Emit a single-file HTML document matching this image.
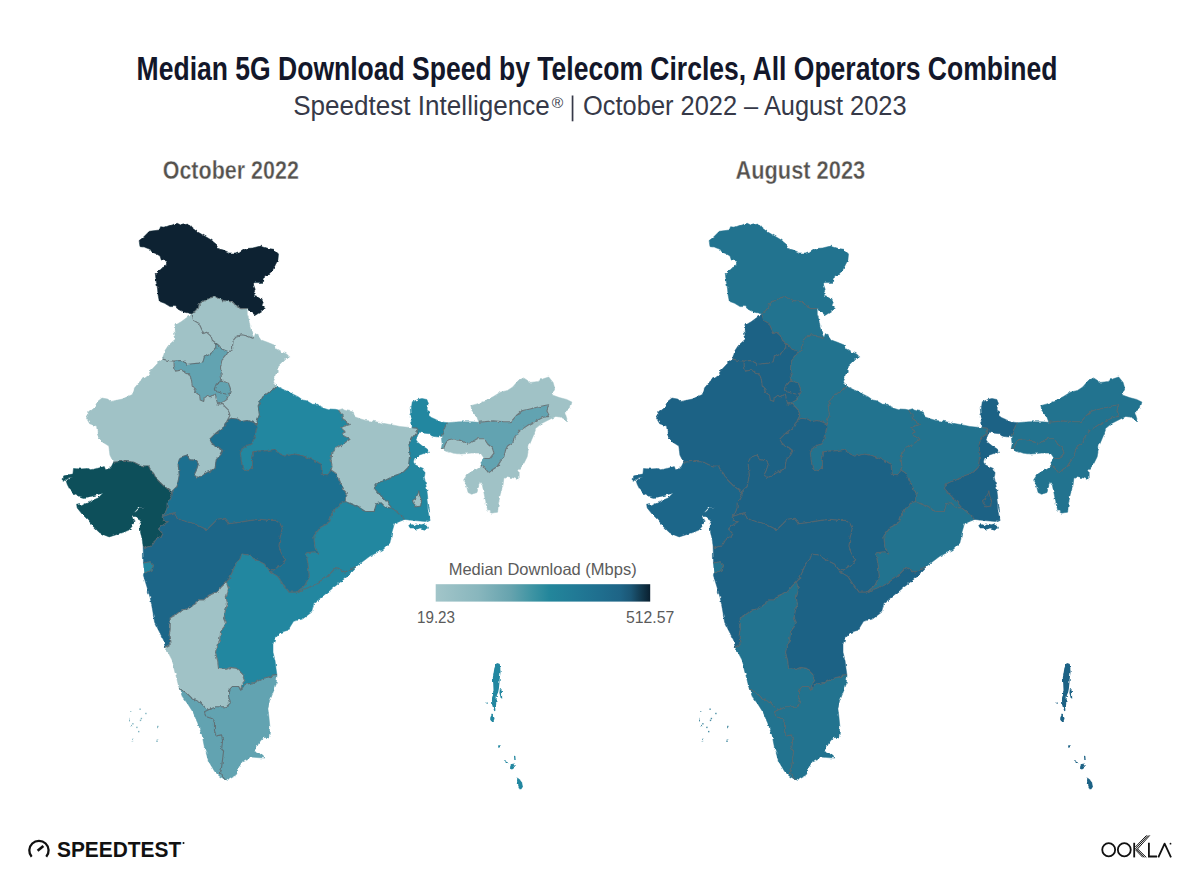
<!DOCTYPE html>
<html><head><meta charset="utf-8">
<style>
html,body{margin:0;padding:0;background:#fff;}
body{width:1201px;height:893px;overflow:hidden;}
svg{display:block;}
text{font-family:"Liberation Sans",sans-serif;}
</style></head>
<body>
<svg width="1201" height="893" viewBox="0 0 1201 893">
<defs>
<filter id="rough" x="-2%" y="-2%" width="104%" height="104%"><feTurbulence type="fractalNoise" baseFrequency="0.22" numOctaves="2" seed="3" result="n"/><feDisplacementMap in="SourceGraphic" in2="n" scale="3.2" xChannelSelector="R" yChannelSelector="G"/></filter>
<linearGradient id="lg" x1="0" x2="1" y1="0" y2="0">
<stop offset="0" stop-color="#a2c5c9"/>
<stop offset="0.2" stop-color="#88b6bd"/>
<stop offset="0.35" stop-color="#66a3ae"/>
<stop offset="0.45" stop-color="#3e94a3"/>
<stop offset="0.53" stop-color="#23869b"/>
<stop offset="0.65" stop-color="#217a96"/>
<stop offset="0.76" stop-color="#1f6f8f"/>
<stop offset="0.86" stop-color="#1e6486"/>
<stop offset="0.91" stop-color="#1b5675"/>
<stop offset="0.96" stop-color="#12384d"/>
<stop offset="1" stop-color="#0a2030"/>
</linearGradient>
</defs>
<rect width="1201" height="893" fill="#fff"/>
<text x="136.6" y="80" font-size="34" font-weight="bold" fill="#13172a" textLength="920.9" lengthAdjust="spacingAndGlyphs">Median 5G Download Speed by Telecom Circles, All Operators Combined</text>
<g fill="#363948">
<text x="293.2" y="114.6" font-size="27" textLength="256.6" lengthAdjust="spacingAndGlyphs">Speedtest Intelligence</text>
<text x="551.8" y="107.6" font-size="15.5" textLength="11.5" lengthAdjust="spacingAndGlyphs">®</text>
<rect x="571.7" y="95.5" width="1.7" height="25.8"/>
<text x="583.1" y="114.6" font-size="27" textLength="323.5" lengthAdjust="spacingAndGlyphs">October 2022 – August 2023</text>
</g>
<text x="162.7" y="178.6" font-size="25" font-weight="bold" fill="#55524e" stroke="#fff" stroke-width="0.35" textLength="136.2" lengthAdjust="spacingAndGlyphs">October 2022</text>
<text x="735.4" y="178.6" font-size="25" font-weight="bold" fill="#55524e" stroke="#fff" stroke-width="0.35" textLength="129.8" lengthAdjust="spacingAndGlyphs">August 2023</text>
<g transform="translate(0,0)" filter="url(#rough)">
<path d="M192.0,314.0 L183.3,311.9 L178.0,309.3 L175.3,306.6 L170.0,306.6 L164.6,303.3 L159.3,301.3 L158.0,294.6 L157.3,286.6 L156.0,280.0 L155.3,273.3 L159.3,269.3 L164.6,266.6 L166.6,264.0 L166.0,261.3 L161.3,260.0 L160.0,256.0 L156.6,254.0 L152.0,252.0 L150.0,249.3 L144.7,247.3 L140.0,246.6 L139.1,240.6 L143.3,237.3 L149.3,231.3 L159.3,230.0 L160.6,226.7 L164.6,227.3 L170.0,225.3 L177.3,223.3 L181.3,225.3 L188.6,224.0 L191.3,227.3 L196.6,231.3 L204.6,236.0 L211.3,240.0 L215.3,243.3 L216.6,248.0 L223.3,250.0 L227.9,252.0 L228.6,254.0 L235.2,254.0 L240.6,252.0 L245.9,248.6 L252.6,248.0 L260.6,246.0 L268.6,248.6 L273.9,249.3 L278.5,254.0 L277.9,260.0 L275.2,265.3 L272.5,270.6 L268.6,274.6 L264.6,276.0 L263.9,281.3 L261.2,282.6 L254.6,282.6 L253.2,283.9 L255.2,289.3 L253.9,291.9 L254.6,296.6 L261.9,298.6 L263.2,302.6 L261.9,305.3 L265.2,308.6 L260.6,311.9 L255.2,315.3 L251.2,311.9 L247.9,308.6 L247.2,308.5 L243.2,308.6 L240.6,308.6 L236.6,306.6 L233.2,302.6 L228.6,301.3 L223.3,300.6 L215.3,296.6 L209.9,297.9 L203.3,301.3 L199.3,303.9 L198.6,307.9 L195.3,311.9 L192.0,314.0Z" fill="#0a2432" stroke="#0a2432" stroke-width="0.5"/>
<path d="M192.0,314.0 L195.3,311.9 L198.6,307.9 L199.3,303.9 L203.3,301.3 L209.9,297.9 L215.3,296.6 L223.3,300.6 L228.6,301.3 L233.2,302.6 L236.6,306.6 L240.6,308.6 L243.2,308.6 L247.2,308.5 L247.3,314.8 L248.7,318.8 L249.3,322.8 L250.0,326.9 L251.4,331.6 L252.7,334.9 L254.0,337.6 L252.7,338.3 L247.3,336.0 L242.0,334.7 L236.6,336.3 L233.2,340.3 L232.6,345.7 L232.6,349.7 L228.5,351.7 L221.8,349.0 L219.1,345.7 L215.8,343.0 L212.4,340.3 L211.1,336.3 L206.4,332.2 L203.7,333.6 L199.0,323.5 L193.6,320.2 L192.0,314.0Z" fill="#a0c2c6" stroke="#a0c2c6" stroke-width="0.5"/>
<path d="M192.0,314.0 L193.6,320.2 L199.0,323.5 L203.7,333.6 L206.4,332.2 L211.1,336.3 L212.4,340.3 L215.8,343.0 L215.8,348.4 L213.1,351.7 L208.4,355.1 L204.3,357.1 L203.0,361.8 L199.0,363.1 L192.2,363.8 L186.9,364.5 L184.9,361.8 L180.2,360.5 L174.1,361.1 L168.1,360.5 L162.7,359.1 L163.4,356.4 L164.7,351.1 L168.1,345.7 L175.5,339.0 L174.1,330.9 L174.8,325.5 L181.5,321.5 L188.9,316.1 L192.0,314.0Z" fill="#a0c2c6" stroke="#a0c2c6" stroke-width="0.5"/>
<path d="M215.8,343.0 L219.1,345.7 L221.8,349.0 L228.5,351.7 L225.2,356.4 L221.8,360.5 L220.5,367.2 L221.1,375.2 L221.8,381.3 L216.4,384.0 L214.4,388.7 L216.4,391.4 L220.5,392.7 L225.8,394.0 L229.9,392.7 L227.2,399.4 L223.1,402.1 L217.8,404.1 L216.4,399.4 L215.1,394.0 L211.1,396.7 L207.7,395.4 L204.3,398.1 L203.7,401.4 L200.3,400.1 L199.6,395.4 L196.3,392.7 L192.2,386.0 L191.6,380.6 L189.6,373.9 L185.5,373.2 L181.5,369.9 L175.5,371.2 L174.1,365.8 L174.1,361.1 L180.2,360.5 L184.9,361.8 L186.9,364.5 L192.2,363.8 L199.0,363.1 L203.0,361.8 L204.3,357.1 L208.4,355.1 L213.1,351.7 L215.8,348.4 L215.8,343.0Z" fill="#62a3b1" stroke="#62a3b1" stroke-width="0.5"/>
<path d="M221.8,381.3 L228.5,383.3 L230.5,388.7 L229.9,392.7 L225.8,394.0 L220.5,392.7 L216.4,391.4 L214.4,388.7 L216.4,384.0 L221.8,381.3Z" fill="#62a3b1" stroke="#62a3b1" stroke-width="0.5"/>
<path d="M162.7,359.1 L168.1,360.5 L174.1,361.1 L174.1,365.8 L175.5,371.2 L181.5,369.9 L185.5,373.2 L189.6,373.9 L191.6,380.6 L192.2,386.0 L196.3,392.7 L199.6,395.4 L200.3,400.1 L203.7,401.4 L204.3,398.1 L207.7,395.4 L211.1,396.7 L215.1,394.0 L216.4,399.4 L217.8,404.1 L223.1,403.5 L224.5,406.1 L228.5,410.2 L229.9,415.5 L227.5,420.0 L225.2,426.0 L216.3,432.7 L209.5,439.4 L211.8,443.9 L218.5,447.3 L223.0,450.6 L220.7,455.1 L216.3,459.6 L215.1,468.5 L211.8,470.8 L205.1,473.0 L198.3,477.5 L193.9,475.3 L196.1,470.8 L198.3,464.1 L196.1,460.7 L189.4,459.6 L187.1,455.1 L180.4,457.3 L178.2,464.1 L179.3,475.3 L177.1,486.5 L171.4,491.9 L168.4,489.4 L163.4,485.7 L159.7,482.0 L156.0,478.3 L153.6,473.4 L151.1,470.9 L148.6,466.0 L143.7,466.0 L138.8,464.8 L133.9,462.3 L128.9,461.7 L124.0,461.1 L119.1,461.7 L113.5,462.3 L109.9,455.1 L108.8,446.1 L102.0,441.7 L97.6,434.9 L96.4,426.0 L89.7,423.8 L86.4,418.2 L88.6,412.6 L94.2,408.1 L97.6,401.4 L102.0,398.0 L107.6,399.1 L111.0,401.4 L122.2,399.1 L132.3,394.6 L134.5,387.9 L140.1,381.2 L146.8,376.7 L151.3,370.0 L157.0,364.0 L162.7,359.1Z" fill="#a0c2c6" stroke="#a0c2c6" stroke-width="0.5"/>
<path d="M228.5,351.7 L232.6,349.7 L232.6,345.7 L233.2,340.3 L236.6,336.3 L242.0,334.7 L247.3,336.0 L252.7,338.3 L254.0,337.6 L255.4,333.6 L259.4,336.3 L262.1,340.3 L267.5,342.3 L274.2,345.0 L275.5,348.4 L280.9,351.7 L286.3,353.7 L289.7,357.1 L286.3,357.8 L282.3,361.8 L278.2,365.8 L278.2,372.6 L275.5,375.2 L273.5,380.6 L275.5,384.6 L277.6,386.7 L276.1,386.1 L271.7,390.2 L262.7,396.9 L258.2,405.8 L259.4,414.8 L256.0,423.8 L253.8,422.6 L248.2,420.4 L241.4,421.5 L238.1,419.3 L231.4,418.2 L227.5,420.0 L229.9,415.5 L228.5,410.2 L224.5,406.1 L223.1,403.5 L217.8,404.1 L223.1,402.1 L227.2,399.4 L229.9,392.7 L230.5,388.7 L228.5,383.3 L221.8,381.3 L221.1,375.2 L220.5,367.2 L221.8,360.5 L225.2,356.4 L228.5,351.7Z" fill="#a0c2c6" stroke="#a0c2c6" stroke-width="0.5"/>
<path d="M256.0,423.8 L259.4,414.8 L258.2,405.8 L262.7,396.9 L271.7,390.2 L276.1,386.1 L289.6,392.4 L298.5,396.9 L302.7,400.0 L306.6,400.7 L310.0,402.7 L312.6,404.3 L318.0,404.3 L320.0,406.7 L325.3,408.7 L329.3,410.0 L330.0,409.0 L335.3,409.3 L338.5,410.0 L342.0,415.3 L342.6,418.7 L346.6,421.3 L349.3,424.7 L343.3,426.6 L340.6,428.0 L342.6,429.3 L345.0,431.3 L342.6,433.3 L344.0,436.0 L350.0,439.3 L343.3,443.9 L332.1,450.6 L331.0,459.6 L332.1,466.3 L331.0,470.0 L327.5,475.7 L322.5,475.3 L320.9,464.1 L312.0,459.6 L300.8,455.1 L294.1,454.0 L285.1,456.2 L278.4,452.9 L273.9,449.5 L267.2,450.6 L258.2,451.1 L253.8,451.7 L252.6,457.3 L252.6,468.5 L248.2,470.8 L242.6,468.5 L241.4,461.8 L240.3,452.9 L242.6,447.3 L248.2,445.0 L252.0,443.9 L254.9,434.9 L257.1,428.2 L256.0,423.8Z" fill="#2487a0" stroke="#2487a0" stroke-width="0.5"/>
<path d="M113.5,462.3 L119.1,461.7 L124.0,461.1 L128.9,461.7 L133.9,462.3 L138.8,464.8 L143.7,466.0 L148.6,466.0 L151.1,470.9 L153.6,473.4 L156.0,478.3 L159.7,482.0 L163.4,485.7 L168.4,489.4 L171.4,491.9 L172.1,495.6 L170.2,499.3 L167.1,503.0 L167.1,507.9 L165.3,512.8 L162.2,516.5 L163.4,521.5 L168.4,521.5 L164.7,523.9 L161.0,526.4 L158.5,528.9 L162.8,533.8 L161.0,537.5 L157.3,536.3 L156.0,538.7 L153.6,543.6 L151.1,546.1 L147.4,547.3 L145.0,548.6 L143.1,547.3 L142.5,541.2 L141.3,535.0 L140.0,528.9 L140.0,523.9 L141.3,520.2 L138.8,519.0 L136.3,516.5 L133.9,516.5 L132.6,514.1 L136.3,511.6 L140.0,507.9 L145.0,507.9 L138.8,507.3 L133.9,512.8 L132.0,516.5 L133.9,521.5 L132.0,526.4 L128.9,530.1 L122.8,532.6 L115.4,535.0 L109.2,536.9 L104.3,535.0 L99.4,532.6 L93.2,526.4 L88.3,520.2 L82.1,514.1 L77.2,507.9 L76.6,504.2 L79.6,503.6 L80.9,506.1 L87.0,503.0 L92.0,500.5 L98.1,498.1 L103.1,493.1 L98.1,494.4 L92.0,496.2 L84.6,497.4 L79.6,496.2 L73.5,493.1 L69.8,489.4 L67.3,484.5 L66.1,480.8 L69.8,478.3 L72.9,477.1 L68.6,477.7 L65.5,479.6 L63.0,481.4 L63.6,475.9 L68.6,474.6 L72.9,474.0 L73.5,468.5 L79.6,469.1 L88.3,468.5 L90.7,469.7 L96.9,468.5 L104.3,466.6 L105.5,469.7 L109.2,468.5 L111.7,466.0 L113.5,462.3Z" fill="#0a4f5a" stroke="#0a4f5a" stroke-width="0.5"/>
<path d="M171.4,491.9 L177.1,486.5 L179.3,475.3 L178.2,464.1 L180.4,457.3 L187.1,455.1 L189.4,459.6 L196.1,460.7 L198.3,464.1 L196.1,470.8 L193.9,475.3 L198.3,477.5 L205.1,473.0 L211.8,470.8 L215.1,468.5 L216.3,459.6 L220.7,455.1 L223.0,450.6 L218.5,447.3 L211.8,443.9 L209.5,439.4 L216.3,432.7 L225.2,426.0 L227.5,420.0 L231.4,418.2 L238.1,419.3 L241.4,421.5 L248.2,420.4 L253.8,422.6 L256.0,423.8 L257.1,428.2 L254.9,434.9 L252.0,443.9 L248.2,445.0 L242.6,447.3 L240.3,452.9 L241.4,461.8 L242.6,468.5 L248.2,470.8 L252.6,468.5 L252.6,457.3 L253.8,451.7 L258.2,451.1 L267.2,450.6 L273.9,449.5 L278.4,452.9 L285.1,456.2 L294.1,454.0 L300.8,455.1 L312.0,459.6 L320.9,464.1 L322.5,475.3 L327.5,475.7 L331.0,470.0 L336.1,473.4 L340.6,482.4 L342.9,489.1 L347.3,493.6 L345.1,501.4 L338.4,504.8 L331.7,513.8 L329.4,522.7 L320.5,527.2 L313.8,536.1 L314.9,547.3 L319.4,554.1 L313.8,551.8 L305.9,552.9 L308.2,565.3 L309.3,576.5 L304.8,585.4 L297.0,592.1 L289.1,592.1 L282.4,583.2 L277.9,576.5 L270.6,571.9 L275.6,568.5 L282.3,564.1 L285.7,560.7 L282.3,555.1 L278.9,546.1 L280.1,537.2 L282.3,528.2 L280.1,523.8 L275.6,520.4 L268.9,520.4 L259.9,519.3 L250.9,520.4 L237.5,522.6 L228.5,523.8 L224.1,518.2 L217.3,519.3 L212.9,523.8 L206.1,530.5 L203.9,528.2 L194.9,523.8 L186.0,521.5 L177.0,518.2 L174.8,512.6 L162.2,516.5 L165.3,512.8 L167.1,507.9 L167.1,503.0 L170.2,499.3 L172.1,495.6 L171.4,491.9Z" fill="#1f7090" stroke="#1f7090" stroke-width="0.5"/>
<path d="M143.1,547.3 L145.0,548.6 L147.4,547.3 L151.1,546.1 L153.6,543.6 L156.0,538.7 L157.3,536.3 L161.0,537.5 L162.8,533.8 L158.5,528.9 L161.0,526.4 L164.7,523.9 L168.4,521.5 L163.4,521.5 L162.2,516.5 L174.8,512.6 L177.0,518.2 L186.0,521.5 L194.9,523.8 L203.9,528.2 L206.1,530.5 L212.9,523.8 L217.3,519.3 L224.1,518.2 L228.5,523.8 L237.5,522.6 L250.9,520.4 L259.9,519.3 L268.9,520.4 L275.6,520.4 L280.1,523.8 L282.3,528.2 L280.1,537.2 L278.9,546.1 L282.3,555.1 L285.7,560.7 L282.3,564.1 L275.6,568.5 L270.6,571.9 L264.4,564.1 L255.4,559.6 L248.7,555.1 L242.0,554.0 L239.7,559.6 L235.3,564.1 L233.0,570.8 L228.5,579.7 L226.3,582.0 L221.8,586.5 L217.3,592.1 L208.4,595.4 L203.9,599.9 L197.2,599.9 L194.9,604.4 L188.2,608.9 L181.5,610.0 L174.8,615.6 L170.3,617.8 L170.2,628.1 L169.1,636.1 L170.2,644.2 L165.1,647.2 L163.6,640.2 L159.1,631.3 L154.6,622.3 L152.4,608.9 L150.2,597.7 L146.8,586.5 L143.4,575.3 L144.6,573.0 L147.9,571.9 L152.4,569.7 L153.5,565.2 L150.2,561.8 L143.4,562.9 L143.4,555.1 L143.1,547.3Z" fill="#1e6688" stroke="#1e6688" stroke-width="0.5"/>
<path d="M144.6,573.0 L147.9,571.9 L152.4,569.7 L153.5,565.2 L150.2,561.8 L143.4,562.9 L143.9,568.5 L144.6,573.0Z" fill="#2487a0" stroke="#2487a0" stroke-width="0.5"/>
<path d="M331.0,470.0 L332.1,466.3 L331.0,459.6 L332.1,450.6 L343.3,443.9 L350.0,439.3 L344.0,436.0 L342.6,433.3 L345.0,431.3 L342.6,429.3 L340.6,428.0 L343.3,426.6 L349.3,424.7 L346.6,421.3 L342.6,418.7 L342.0,415.3 L338.5,410.0 L342.5,408.7 L344.0,410.0 L346.6,410.7 L353.3,412.0 L354.6,416.7 L360.0,418.7 L365.7,420.4 L374.7,421.5 L385.9,423.8 L392.6,424.9 L400.0,426.5 L412.2,427.7 L417.0,428.1 L417.9,430.7 L414.3,435.2 L410.7,439.7 L409.0,444.2 L409.9,453.1 L409.0,462.1 L408.1,467.5 L403.6,471.9 L400.0,473.7 L394.4,475.7 L385.4,480.2 L378.7,482.4 L374.2,488.0 L378.7,493.6 L385.4,500.3 L392.1,508.2 L385.4,507.0 L380.9,502.6 L376.5,503.7 L374.2,511.5 L365.3,511.5 L358.5,507.0 L345.1,501.4 L347.3,493.6 L342.9,489.1 L340.6,482.4 L336.1,473.4 L331.0,470.0Z" fill="#a0c2c6" stroke="#a0c2c6" stroke-width="0.5"/>
<path d="M392.1,508.2 L385.4,500.3 L378.7,493.6 L374.2,488.0 L378.7,482.4 L385.4,480.2 L394.4,475.7 L400.0,473.7 L403.6,471.9 L408.1,467.5 L409.0,462.1 L409.9,453.1 L409.0,444.2 L410.7,439.7 L414.3,435.2 L417.9,430.7 L417.0,428.1 L412.2,427.7 L411.7,423.6 L410.6,418.0 L409.8,416.3 L410.6,412.4 L410.3,408.5 L411.7,405.7 L412.3,401.8 L417.9,399.5 L421.8,398.4 L426.8,399.5 L428.5,403.4 L427.4,406.8 L427.1,411.3 L429.6,412.4 L428.5,415.2 L431.3,417.4 L436.3,419.7 L440.8,421.9 L447.5,422.7 L445.3,426.4 L443.1,432.0 L441.2,436.1 L438.6,437.0 L431.9,435.9 L429.1,433.7 L422.9,433.1 L420.4,430.9 L417.9,434.8 L416.1,439.7 L417.9,442.4 L422.4,446.0 L426.9,448.7 L429.6,451.3 L425.1,453.1 L419.7,454.9 L414.3,458.5 L413.4,462.1 L415.2,464.8 L418.8,466.6 L423.3,468.4 L425.1,472.8 L424.2,478.2 L426.0,485.4 L426.9,490.7 L427.8,497.9 L428.7,505.1 L429.6,512.2 L426.9,500.3 L428.0,511.5 L430.2,519.4 L425.7,521.6 L414.5,520.5 L404.5,519.4 L398.9,513.8 L392.1,508.2Z" fill="#2487a0" stroke="#2487a0" stroke-width="0.5"/>
<path d="M345.1,501.4 L358.5,507.0 L365.3,511.5 L374.2,511.5 L376.5,503.7 L380.9,502.6 L385.4,507.0 L392.1,508.2 L398.9,513.8 L404.5,519.4 L394.4,523.8 L392.1,531.7 L389.9,542.9 L383.2,549.6 L369.7,556.3 L360.8,563.0 L356.3,566.4 L354.1,567.5 L345.1,572.0 L336.1,567.5 L327.2,576.5 L313.8,585.4 L297.0,592.1 L304.8,585.4 L309.3,576.5 L308.2,565.3 L305.9,552.9 L313.8,551.8 L319.4,554.1 L314.9,547.3 L313.8,536.1 L320.5,527.2 L329.4,522.7 L331.7,513.8 L338.4,504.8 L345.1,501.4Z" fill="#2487a0" stroke="#2487a0" stroke-width="0.5"/>
<path d="M270.6,571.9 L277.9,576.5 L282.4,583.2 L289.1,592.1 L297.0,592.1 L313.8,585.4 L327.2,576.5 L336.1,567.5 L345.1,572.0 L354.1,567.5 L356.3,566.4 L347.3,576.5 L336.1,585.4 L324.9,594.4 L313.8,603.3 L311.5,612.3 L302.6,619.0 L293.6,621.3 L288.0,630.2 L280.2,632.5 L274.6,639.2 L273.0,644.2 L273.0,652.3 L275.0,660.3 L276.0,668.4 L277.0,675.4 L270.9,676.4 L262.9,678.5 L254.8,682.5 L244.7,684.5 L240.7,690.5 L241.7,684.5 L244.7,680.5 L242.7,674.4 L236.7,668.4 L230.6,667.4 L224.6,669.4 L218.5,668.4 L217.5,660.3 L215.5,652.3 L217.3,644.7 L219.6,640.2 L220.7,631.3 L224.1,626.8 L226.3,622.3 L224.1,617.8 L225.2,611.1 L227.4,604.4 L226.3,597.7 L228.5,588.7 L226.3,582.0 L228.5,579.7 L233.0,570.8 L235.3,564.1 L239.7,559.6 L242.0,554.0 L248.7,555.1 L255.4,559.6 L264.4,564.1 L270.6,571.9Z" fill="#2487a0" stroke="#2487a0" stroke-width="0.5"/>
<path d="M165.1,647.2 L170.2,644.2 L169.1,636.1 L170.2,628.1 L170.3,617.8 L174.8,615.6 L181.5,610.0 L188.2,608.9 L194.9,604.4 L197.2,599.9 L203.9,599.9 L208.4,595.4 L217.3,592.1 L221.8,586.5 L226.3,582.0 L228.5,588.7 L226.3,597.7 L227.4,604.4 L225.2,611.1 L224.1,617.8 L226.3,622.3 L224.1,626.8 L220.7,631.3 L219.6,640.2 L217.3,644.7 L215.5,652.3 L217.5,660.3 L218.5,668.4 L224.6,669.4 L230.6,667.4 L236.7,668.4 L242.7,674.4 L244.7,680.5 L241.7,684.5 L240.7,690.5 L238.7,686.5 L232.6,686.5 L228.6,690.5 L228.6,696.6 L230.6,702.6 L226.6,706.7 L216.5,706.7 L208.5,709.7 L204.4,706.7 L200.4,702.6 L192.3,698.6 L186.3,692.6 L179.2,688.5 L176.2,676.4 L174.2,668.4 L172.2,660.3 L169.1,654.3 L165.1,647.2Z" fill="#a0c2c6" stroke="#a0c2c6" stroke-width="0.5"/>
<path d="M179.2,688.5 L186.3,692.6 L192.3,698.6 L200.4,702.6 L204.4,706.7 L208.5,709.7 L204.4,711.7 L206.4,716.8 L212.5,718.8 L214.5,722.8 L214.5,730.9 L216.5,735.9 L221.6,734.9 L222.6,740.9 L221.6,749.0 L223.6,751.0 L222.6,759.1 L221.6,767.1 L220.5,773.2 L224.6,779.2 L219.5,776.2 L214.5,771.2 L208.5,761.1 L204.4,747.0 L202.4,736.9 L198.4,724.8 L193.3,712.7 L188.3,704.7 L182.3,696.6 L179.2,688.5Z" fill="#62a3b1" stroke="#62a3b1" stroke-width="0.5"/>
<path d="M208.5,709.7 L216.5,706.7 L226.6,706.7 L230.6,702.6 L228.6,696.6 L228.6,690.5 L232.6,686.5 L238.7,686.5 L240.7,690.5 L244.7,684.5 L254.8,682.5 L262.9,678.5 L270.9,676.4 L277.0,675.4 L276.0,684.5 L273.0,692.6 L269.9,700.6 L267.9,708.7 L268.9,716.8 L269.9,726.8 L268.9,736.9 L262.9,737.9 L258.8,743.0 L254.8,751.0 L262.9,755.1 L264.9,758.1 L250.8,757.1 L242.7,761.1 L238.7,767.1 L236.7,775.2 L232.6,777.2 L227.6,780.2 L224.6,779.2 L220.5,773.2 L221.6,767.1 L222.6,759.1 L223.6,751.0 L221.6,749.0 L222.6,740.9 L221.6,734.9 L216.5,735.9 L214.5,730.9 L214.5,722.8 L212.5,718.8 L206.4,716.8 L204.4,711.7 L208.5,709.7Z" fill="#62a3b1" stroke="#62a3b1" stroke-width="0.5"/>
<path d="M441.2,436.1 L443.1,432.0 L445.3,426.4 L447.5,422.7 L459.1,421.8 L471.6,421.8 L478.8,422.3 L493.1,420.9 L503.9,421.8 L511.0,421.8 L516.4,415.5 L521.8,411.0 L529.0,409.3 L536.1,407.5 L543.3,405.7 L548.7,404.8 L546.9,411.0 L549.6,416.4 L543.3,417.3 L536.1,420.9 L529.0,424.5 L523.6,428.1 L519.1,431.6 L514.6,437.0 L512.8,442.4 L507.5,446.0 L505.7,449.6 L503.9,456.7 L500.3,460.3 L498.5,465.7 L493.1,469.3 L488.7,472.8 L485.1,468.4 L481.5,465.7 L480.6,460.3 L484.2,458.5 L489.6,458.5 L494.0,453.1 L492.2,447.8 L487.8,444.2 L484.2,438.8 L477.0,438.8 L471.6,442.4 L467.2,444.2 L460.9,440.6 L453.7,438.8 L448.4,439.7 L445.7,443.3 L443.9,447.8 L441.2,448.7 L442.1,444.2 L441.2,436.1Z" fill="#62a3b1" stroke="#62a3b1" stroke-width="0.5"/>
<path d="M478.8,422.3 L477.0,417.3 L471.6,410.1 L470.7,405.7 L477.0,403.9 L484.2,401.2 L493.1,396.7 L500.3,392.2 L507.5,390.4 L512.8,386.9 L518.2,380.6 L523.6,377.9 L530.7,382.4 L537.9,381.5 L543.3,378.8 L548.7,377.0 L553.1,382.4 L554.9,388.7 L552.2,394.9 L559.4,397.6 L566.6,399.4 L571.9,402.1 L570.1,408.4 L564.8,411.9 L567.5,420.9 L561.2,417.3 L555.8,416.4 L550.4,419.1 L541.5,423.6 L536.1,428.1 L534.3,433.4 L529.0,446.0 L527.2,456.7 L523.6,463.9 L518.2,471.0 L518.2,480.0 L514.6,478.2 L507.5,476.4 L503.9,478.2 L503.0,485.4 L500.3,494.3 L498.5,503.3 L497.6,512.2 L491.3,513.1 L487.8,510.4 L486.0,503.3 L484.2,494.3 L482.4,485.4 L479.7,481.8 L477.0,492.5 L471.6,494.3 L468.1,492.5 L466.3,485.4 L463.6,480.0 L467.2,474.6 L472.5,471.0 L477.0,469.3 L481.5,465.7 L485.1,468.4 L488.7,472.8 L493.1,469.3 L498.5,465.7 L500.3,460.3 L503.9,456.7 L505.7,449.6 L507.5,446.0 L512.8,442.4 L514.6,437.0 L519.1,431.6 L523.6,428.1 L529.0,424.5 L536.1,420.9 L543.3,417.3 L549.6,416.4 L546.9,411.0 L548.7,404.8 L543.3,405.7 L536.1,407.5 L529.0,409.3 L521.8,411.0 L516.4,415.5 L511.0,421.8 L503.9,421.8 L493.1,420.9 L478.8,422.3Z" fill="#a0c2c6" stroke="#a0c2c6" stroke-width="0.5"/>
<path d="M484.2,458.5 L480.6,453.1 L471.6,453.1 L460.9,454.0 L451.9,453.1 L444.8,450.4 L441.2,448.7 L443.9,447.8 L445.7,443.3 L448.4,439.7 L453.7,438.8 L460.9,440.6 L467.2,444.2 L471.6,442.4 L477.0,438.8 L484.2,438.8 L487.8,444.2 L492.2,447.8 L494.0,453.1 L489.6,458.5 L484.2,458.5Z" fill="#a0c2c6" stroke="#a0c2c6" stroke-width="0.5"/>
<path d="M418.8,490.7 L419.7,496.1 L421.5,500.6 L420.6,506.0 L417.0,506.9 L413.4,503.3 L412.5,500.6 L416.1,497.9 L417.9,493.4Z" fill="#a0c2c6" stroke="#5d6468" stroke-opacity="0.8" stroke-width="1.1"/>
<path d="M496.9,663.1 L499.4,663.8 L500.2,666.8 L500.6,671.8 L499.9,676.9 L499.4,683.6 L498.9,688.6 L498.2,692.0 L496.9,695.3 L496.5,700.4 L496.0,705.4 L495.2,708.8 L495.5,710.4 L494.3,711.3 L493.2,707.9 L492.2,703.7 L491.8,698.7 L492.7,695.3 L493.5,690.3 L493.2,683.6 L492.7,678.5 L493.5,673.5 L494.3,668.5 L495.5,665.1Z" fill="#2487a0"/>
<path d="M491.8,714.6 L493.8,715.8 L494.5,718.8 L493.5,721.3 L491.0,721.3 L490.1,718.0Z" fill="#2487a0"/>
<path d="M499.9,688.6 L501.9,691.1 L502.2,698.7 L500.6,697.8 L499.4,692.8Z" fill="#2487a0"/>
<path d="M498.2,745.3 L500.6,745.3 L500.6,747.7 L498.2,747.7Z" fill="#2487a0"/>
<path d="M504.9,760.0 L507.3,761.6 L508.3,764.1 L506.1,764.1Z" fill="#2487a0"/>
<path d="M510.3,765.8 L513.3,763.3 L515.0,767.5 L512.0,769.5 L510.0,768.8Z" fill="#2487a0"/>
<path d="M514.0,755.8 L515.3,756.1 L515.7,760.0 L514.3,760.0Z" fill="#2487a0"/>
<path d="M517.3,777.6 L519.5,779.3 L522.0,782.6 L522.9,786.8 L521.2,789.3 L519.5,789.3 L517.8,784.3 L517.0,780.9Z" fill="#2487a0"/>
<path d="M486.5,702.4 L487.8,702.4 L487.8,703.7 L486.5,703.7Z" fill="#2487a0"/>
<path d="M408.3,525.4 L410.5,524.3 L414.5,524.9 L416.8,523.6 L420.1,524.5 L423.5,523.8 L426.9,526.1 L428.0,528.3 L424.6,529.4 L420.1,528.3 L416.8,529.4 L413.4,528.3 L410.1,528.3Z" fill="#2487a0"/>
<rect x="130.0" y="710.3" width="1.4" height="1.4" fill="#62a3b1" opacity="0.8"/>
<rect x="139.4" y="708.5" width="1.4" height="1.4" fill="#62a3b1" opacity="0.8"/>
<rect x="145.2" y="712.8" width="1.4" height="1.4" fill="#62a3b1" opacity="0.8"/>
<rect x="128.6" y="717.8" width="1.4" height="1.4" fill="#62a3b1" opacity="0.8"/>
<rect x="140.7" y="717.8" width="1.4" height="1.4" fill="#62a3b1" opacity="0.8"/>
<rect x="139.8" y="719.7" width="1.4" height="1.4" fill="#62a3b1" opacity="0.8"/>
<rect x="132.2" y="723.1" width="1.4" height="1.4" fill="#62a3b1" opacity="0.8"/>
<rect x="130.0" y="724.9" width="1.4" height="1.4" fill="#62a3b1" opacity="0.8"/>
<rect x="136.2" y="726.7" width="1.4" height="1.4" fill="#62a3b1" opacity="0.8"/>
<rect x="138.0" y="730.9" width="1.4" height="1.4" fill="#62a3b1" opacity="0.8"/>
<rect x="157.1" y="725.8" width="1.4" height="1.4" fill="#62a3b1" opacity="0.8"/>
<rect x="132.2" y="738.7" width="1.4" height="1.4" fill="#62a3b1" opacity="0.8"/>
<rect x="131.8" y="741.0" width="1.4" height="1.4" fill="#62a3b1" opacity="0.8"/>
<rect x="156.8" y="738.5" width="1.4" height="1.4" fill="#62a3b1" opacity="0.8"/>
<rect x="156.4" y="740.5" width="1.4" height="1.4" fill="#62a3b1" opacity="0.8"/>
<rect x="128.6" y="719.7" width="1.4" height="1.4" fill="#62a3b1" opacity="0.8"/>
<path d="M247.2,308.5 L243.2,308.6 L240.6,308.6 L236.6,306.6 L233.2,302.6 L228.6,301.3 L223.3,300.6 L215.3,296.6 L209.9,297.9 L203.3,301.3 L199.3,303.9 L198.6,307.9 L195.3,311.9 L192.0,314.0 M254.0,337.6 L252.7,338.3 L247.3,336.0 L242.0,334.7 L236.6,336.3 L233.2,340.3 L232.6,345.7 L232.6,349.7 L228.5,351.7 M228.5,351.7 L221.8,349.0 L219.1,345.7 L215.8,343.0 M215.8,343.0 L212.4,340.3 L211.1,336.3 L206.4,332.2 L203.7,333.6 L199.0,323.5 L193.6,320.2 L192.0,314.0 M162.7,359.1 L168.1,360.5 L174.1,361.1 M174.1,361.1 L180.2,360.5 L184.9,361.8 L186.9,364.5 L192.2,363.8 L199.0,363.1 L203.0,361.8 L204.3,357.1 L208.4,355.1 L213.1,351.7 L215.8,348.4 L215.8,343.0 M228.5,351.7 L225.2,356.4 L221.8,360.5 L220.5,367.2 L221.1,375.2 L221.8,381.3 M221.8,381.3 L228.5,383.3 L230.5,388.7 L229.9,392.7 M229.9,392.7 L225.8,394.0 L220.5,392.7 L216.4,391.4 L214.4,388.7 L216.4,384.0 L221.8,381.3 M229.9,392.7 L227.2,399.4 L223.1,402.1 L217.8,404.1 M217.8,404.1 L216.4,399.4 L215.1,394.0 L211.1,396.7 L207.7,395.4 L204.3,398.1 L203.7,401.4 L200.3,400.1 L199.6,395.4 L196.3,392.7 L192.2,386.0 L191.6,380.6 L189.6,373.9 L185.5,373.2 L181.5,369.9 L175.5,371.2 L174.1,365.8 L174.1,361.1 M113.5,462.3 L119.1,461.7 L124.0,461.1 L128.9,461.7 L133.9,462.3 L138.8,464.8 L143.7,466.0 L148.6,466.0 L151.1,470.9 L153.6,473.4 L156.0,478.3 L159.7,482.0 L163.4,485.7 L168.4,489.4 L171.4,491.9 M171.4,491.9 L177.1,486.5 L179.3,475.3 L178.2,464.1 L180.4,457.3 L187.1,455.1 L189.4,459.6 L196.1,460.7 L198.3,464.1 L196.1,470.8 L193.9,475.3 L198.3,477.5 L205.1,473.0 L211.8,470.8 L215.1,468.5 L216.3,459.6 L220.7,455.1 L223.0,450.6 L218.5,447.3 L211.8,443.9 L209.5,439.4 L216.3,432.7 L225.2,426.0 L227.5,420.0 M217.8,404.1 L223.1,403.5 L224.5,406.1 L228.5,410.2 L229.9,415.5 L227.5,420.0 M227.5,420.0 L231.4,418.2 L238.1,419.3 L241.4,421.5 L248.2,420.4 L253.8,422.6 L256.0,423.8 M256.0,423.8 L259.4,414.8 L258.2,405.8 L262.7,396.9 L271.7,390.2 L276.1,386.1 M338.5,410.0 L342.0,415.3 L342.6,418.7 L346.6,421.3 L349.3,424.7 L343.3,426.6 L340.6,428.0 L342.6,429.3 L345.0,431.3 L342.6,433.3 L344.0,436.0 L350.0,439.3 L343.3,443.9 L332.1,450.6 L331.0,459.6 L332.1,466.3 L331.0,470.0 M331.0,470.0 L327.5,475.7 L322.5,475.3 L320.9,464.1 L312.0,459.6 L300.8,455.1 L294.1,454.0 L285.1,456.2 L278.4,452.9 L273.9,449.5 L267.2,450.6 L258.2,451.1 L253.8,451.7 L252.6,457.3 L252.6,468.5 L248.2,470.8 L242.6,468.5 L241.4,461.8 L240.3,452.9 L242.6,447.3 L248.2,445.0 L252.0,443.9 L254.9,434.9 L257.1,428.2 L256.0,423.8 M412.2,427.7 L417.0,428.1 L417.9,430.7 L414.3,435.2 L410.7,439.7 L409.0,444.2 L409.9,453.1 L409.0,462.1 L408.1,467.5 L403.6,471.9 L400.0,473.7 L394.4,475.7 L385.4,480.2 L378.7,482.4 L374.2,488.0 L378.7,493.6 L385.4,500.3 L392.1,508.2 M392.1,508.2 L385.4,507.0 L380.9,502.6 L376.5,503.7 L374.2,511.5 L365.3,511.5 L358.5,507.0 L345.1,501.4 M345.1,501.4 L347.3,493.6 L342.9,489.1 L340.6,482.4 L336.1,473.4 L331.0,470.0 M345.1,501.4 L338.4,504.8 L331.7,513.8 L329.4,522.7 L320.5,527.2 L313.8,536.1 L314.9,547.3 L319.4,554.1 L313.8,551.8 L305.9,552.9 L308.2,565.3 L309.3,576.5 L304.8,585.4 L297.0,592.1 M297.0,592.1 L289.1,592.1 L282.4,583.2 L277.9,576.5 L270.6,571.9 M270.6,571.9 L275.6,568.5 L282.3,564.1 L285.7,560.7 L282.3,555.1 L278.9,546.1 L280.1,537.2 L282.3,528.2 L280.1,523.8 L275.6,520.4 L268.9,520.4 L259.9,519.3 L250.9,520.4 L237.5,522.6 L228.5,523.8 L224.1,518.2 L217.3,519.3 L212.9,523.8 L206.1,530.5 L203.9,528.2 L194.9,523.8 L186.0,521.5 L177.0,518.2 L174.8,512.6 L162.2,516.5 M162.2,516.5 L165.3,512.8 L167.1,507.9 L167.1,503.0 L170.2,499.3 L172.1,495.6 L171.4,491.9 M162.2,516.5 L163.4,521.5 L168.4,521.5 L164.7,523.9 L161.0,526.4 L158.5,528.9 L162.8,533.8 L161.0,537.5 L157.3,536.3 L156.0,538.7 L153.6,543.6 L151.1,546.1 L147.4,547.3 L145.0,548.6 L143.1,547.3 M143.4,562.9 L150.2,561.8 L153.5,565.2 L152.4,569.7 L147.9,571.9 L144.6,573.0 M165.1,647.2 L170.2,644.2 L169.1,636.1 L170.2,628.1 L170.3,617.8 L174.8,615.6 L181.5,610.0 L188.2,608.9 L194.9,604.4 L197.2,599.9 L203.9,599.9 L208.4,595.4 L217.3,592.1 L221.8,586.5 L226.3,582.0 M226.3,582.0 L228.5,579.7 L233.0,570.8 L235.3,564.1 L239.7,559.6 L242.0,554.0 L248.7,555.1 L255.4,559.6 L264.4,564.1 L270.6,571.9 M297.0,592.1 L313.8,585.4 L327.2,576.5 L336.1,567.5 L345.1,572.0 L354.1,567.5 L356.3,566.4 M392.1,508.2 L398.9,513.8 L404.5,519.4 M447.5,422.7 L445.3,426.4 L443.1,432.0 L441.2,436.1 M478.8,422.3 L493.1,420.9 L503.9,421.8 L511.0,421.8 L516.4,415.5 L521.8,411.0 L529.0,409.3 L536.1,407.5 L543.3,405.7 L548.7,404.8 L546.9,411.0 L549.6,416.4 L543.3,417.3 L536.1,420.9 L529.0,424.5 L523.6,428.1 L519.1,431.6 L514.6,437.0 L512.8,442.4 L507.5,446.0 L505.7,449.6 L503.9,456.7 L500.3,460.3 L498.5,465.7 L493.1,469.3 L488.7,472.8 L485.1,468.4 L481.5,465.7 M484.2,458.5 L489.6,458.5 L494.0,453.1 L492.2,447.8 L487.8,444.2 L484.2,438.8 L477.0,438.8 L471.6,442.4 L467.2,444.2 L460.9,440.6 L453.7,438.8 L448.4,439.7 L445.7,443.3 L443.9,447.8 L441.2,448.7 M226.3,582.0 L228.5,588.7 L226.3,597.7 L227.4,604.4 L225.2,611.1 L224.1,617.8 L226.3,622.3 L224.1,626.8 L220.7,631.3 L219.6,640.2 L217.3,644.7 L215.5,652.3 L217.5,660.3 L218.5,668.4 L224.6,669.4 L230.6,667.4 L236.7,668.4 L242.7,674.4 L244.7,680.5 L241.7,684.5 L240.7,690.5 M240.7,690.5 L244.7,684.5 L254.8,682.5 L262.9,678.5 L270.9,676.4 L277.0,675.4 M179.2,688.5 L186.3,692.6 L192.3,698.6 L200.4,702.6 L204.4,706.7 L208.5,709.7 M208.5,709.7 L216.5,706.7 L226.6,706.7 L230.6,702.6 L228.6,696.6 L228.6,690.5 L232.6,686.5 L238.7,686.5 L240.7,690.5 M208.5,709.7 L204.4,711.7 L206.4,716.8 L212.5,718.8 L214.5,722.8 L214.5,730.9 L216.5,735.9 L221.6,734.9 L222.6,740.9 L221.6,749.0 L223.6,751.0 L222.6,759.1 L221.6,767.1 L220.5,773.2 L224.6,779.2" fill="none" stroke="#5d6468" stroke-opacity="0.8" stroke-width="1.1" stroke-linejoin="round"/>
</g>
<g transform="translate(570,0)" filter="url(#rough)">
<path d="M192.0,314.0 L183.3,311.9 L178.0,309.3 L175.3,306.6 L170.0,306.6 L164.6,303.3 L159.3,301.3 L158.0,294.6 L157.3,286.6 L156.0,280.0 L155.3,273.3 L159.3,269.3 L164.6,266.6 L166.6,264.0 L166.0,261.3 L161.3,260.0 L160.0,256.0 L156.6,254.0 L152.0,252.0 L150.0,249.3 L144.7,247.3 L140.0,246.6 L139.1,240.6 L143.3,237.3 L149.3,231.3 L159.3,230.0 L160.6,226.7 L164.6,227.3 L170.0,225.3 L177.3,223.3 L181.3,225.3 L188.6,224.0 L191.3,227.3 L196.6,231.3 L204.6,236.0 L211.3,240.0 L215.3,243.3 L216.6,248.0 L223.3,250.0 L227.9,252.0 L228.6,254.0 L235.2,254.0 L240.6,252.0 L245.9,248.6 L252.6,248.0 L260.6,246.0 L268.6,248.6 L273.9,249.3 L278.5,254.0 L277.9,260.0 L275.2,265.3 L272.5,270.6 L268.6,274.6 L264.6,276.0 L263.9,281.3 L261.2,282.6 L254.6,282.6 L253.2,283.9 L255.2,289.3 L253.9,291.9 L254.6,296.6 L261.9,298.6 L263.2,302.6 L261.9,305.3 L265.2,308.6 L260.6,311.9 L255.2,315.3 L251.2,311.9 L247.9,308.6 L247.2,308.5 L243.2,308.6 L240.6,308.6 L236.6,306.6 L233.2,302.6 L228.6,301.3 L223.3,300.6 L215.3,296.6 L209.9,297.9 L203.3,301.3 L199.3,303.9 L198.6,307.9 L195.3,311.9 L192.0,314.0Z" fill="#22738f" stroke="#22738f" stroke-width="0.5"/>
<path d="M192.0,314.0 L195.3,311.9 L198.6,307.9 L199.3,303.9 L203.3,301.3 L209.9,297.9 L215.3,296.6 L223.3,300.6 L228.6,301.3 L233.2,302.6 L236.6,306.6 L240.6,308.6 L243.2,308.6 L247.2,308.5 L247.3,314.8 L248.7,318.8 L249.3,322.8 L250.0,326.9 L251.4,331.6 L252.7,334.9 L254.0,337.6 L252.7,338.3 L247.3,336.0 L242.0,334.7 L236.6,336.3 L233.2,340.3 L232.6,345.7 L232.6,349.7 L228.5,351.7 L221.8,349.0 L219.1,345.7 L215.8,343.0 L212.4,340.3 L211.1,336.3 L206.4,332.2 L203.7,333.6 L199.0,323.5 L193.6,320.2 L192.0,314.0Z" fill="#22738f" stroke="#22738f" stroke-width="0.5"/>
<path d="M192.0,314.0 L193.6,320.2 L199.0,323.5 L203.7,333.6 L206.4,332.2 L211.1,336.3 L212.4,340.3 L215.8,343.0 L215.8,348.4 L213.1,351.7 L208.4,355.1 L204.3,357.1 L203.0,361.8 L199.0,363.1 L192.2,363.8 L186.9,364.5 L184.9,361.8 L180.2,360.5 L174.1,361.1 L168.1,360.5 L162.7,359.1 L163.4,356.4 L164.7,351.1 L168.1,345.7 L175.5,339.0 L174.1,330.9 L174.8,325.5 L181.5,321.5 L188.9,316.1 L192.0,314.0Z" fill="#1e6285" stroke="#1e6285" stroke-width="0.5"/>
<path d="M215.8,343.0 L219.1,345.7 L221.8,349.0 L228.5,351.7 L225.2,356.4 L221.8,360.5 L220.5,367.2 L221.1,375.2 L221.8,381.3 L216.4,384.0 L214.4,388.7 L216.4,391.4 L220.5,392.7 L225.8,394.0 L229.9,392.7 L227.2,399.4 L223.1,402.1 L217.8,404.1 L216.4,399.4 L215.1,394.0 L211.1,396.7 L207.7,395.4 L204.3,398.1 L203.7,401.4 L200.3,400.1 L199.6,395.4 L196.3,392.7 L192.2,386.0 L191.6,380.6 L189.6,373.9 L185.5,373.2 L181.5,369.9 L175.5,371.2 L174.1,365.8 L174.1,361.1 L180.2,360.5 L184.9,361.8 L186.9,364.5 L192.2,363.8 L199.0,363.1 L203.0,361.8 L204.3,357.1 L208.4,355.1 L213.1,351.7 L215.8,348.4 L215.8,343.0Z" fill="#1e6285" stroke="#1e6285" stroke-width="0.5"/>
<path d="M221.8,381.3 L228.5,383.3 L230.5,388.7 L229.9,392.7 L225.8,394.0 L220.5,392.7 L216.4,391.4 L214.4,388.7 L216.4,384.0 L221.8,381.3Z" fill="#1e6285" stroke="#1e6285" stroke-width="0.5"/>
<path d="M162.7,359.1 L168.1,360.5 L174.1,361.1 L174.1,365.8 L175.5,371.2 L181.5,369.9 L185.5,373.2 L189.6,373.9 L191.6,380.6 L192.2,386.0 L196.3,392.7 L199.6,395.4 L200.3,400.1 L203.7,401.4 L204.3,398.1 L207.7,395.4 L211.1,396.7 L215.1,394.0 L216.4,399.4 L217.8,404.1 L223.1,403.5 L224.5,406.1 L228.5,410.2 L229.9,415.5 L227.5,420.0 L225.2,426.0 L216.3,432.7 L209.5,439.4 L211.8,443.9 L218.5,447.3 L223.0,450.6 L220.7,455.1 L216.3,459.6 L215.1,468.5 L211.8,470.8 L205.1,473.0 L198.3,477.5 L193.9,475.3 L196.1,470.8 L198.3,464.1 L196.1,460.7 L189.4,459.6 L187.1,455.1 L180.4,457.3 L178.2,464.1 L179.3,475.3 L177.1,486.5 L171.4,491.9 L168.4,489.4 L163.4,485.7 L159.7,482.0 L156.0,478.3 L153.6,473.4 L151.1,470.9 L148.6,466.0 L143.7,466.0 L138.8,464.8 L133.9,462.3 L128.9,461.7 L124.0,461.1 L119.1,461.7 L113.5,462.3 L109.9,455.1 L108.8,446.1 L102.0,441.7 L97.6,434.9 L96.4,426.0 L89.7,423.8 L86.4,418.2 L88.6,412.6 L94.2,408.1 L97.6,401.4 L102.0,398.0 L107.6,399.1 L111.0,401.4 L122.2,399.1 L132.3,394.6 L134.5,387.9 L140.1,381.2 L146.8,376.7 L151.3,370.0 L157.0,364.0 L162.7,359.1Z" fill="#1e6285" stroke="#1e6285" stroke-width="0.5"/>
<path d="M228.5,351.7 L232.6,349.7 L232.6,345.7 L233.2,340.3 L236.6,336.3 L242.0,334.7 L247.3,336.0 L252.7,338.3 L254.0,337.6 L255.4,333.6 L259.4,336.3 L262.1,340.3 L267.5,342.3 L274.2,345.0 L275.5,348.4 L280.9,351.7 L286.3,353.7 L289.7,357.1 L286.3,357.8 L282.3,361.8 L278.2,365.8 L278.2,372.6 L275.5,375.2 L273.5,380.6 L275.5,384.6 L277.6,386.7 L276.1,386.1 L271.7,390.2 L262.7,396.9 L258.2,405.8 L259.4,414.8 L256.0,423.8 L253.8,422.6 L248.2,420.4 L241.4,421.5 L238.1,419.3 L231.4,418.2 L227.5,420.0 L229.9,415.5 L228.5,410.2 L224.5,406.1 L223.1,403.5 L217.8,404.1 L223.1,402.1 L227.2,399.4 L229.9,392.7 L230.5,388.7 L228.5,383.3 L221.8,381.3 L221.1,375.2 L220.5,367.2 L221.8,360.5 L225.2,356.4 L228.5,351.7Z" fill="#22738f" stroke="#22738f" stroke-width="0.5"/>
<path d="M256.0,423.8 L259.4,414.8 L258.2,405.8 L262.7,396.9 L271.7,390.2 L276.1,386.1 L289.6,392.4 L298.5,396.9 L302.7,400.0 L306.6,400.7 L310.0,402.7 L312.6,404.3 L318.0,404.3 L320.0,406.7 L325.3,408.7 L329.3,410.0 L330.0,409.0 L335.3,409.3 L338.5,410.0 L342.0,415.3 L342.6,418.7 L346.6,421.3 L349.3,424.7 L343.3,426.6 L340.6,428.0 L342.6,429.3 L345.0,431.3 L342.6,433.3 L344.0,436.0 L350.0,439.3 L343.3,443.9 L332.1,450.6 L331.0,459.6 L332.1,466.3 L331.0,470.0 L327.5,475.7 L322.5,475.3 L320.9,464.1 L312.0,459.6 L300.8,455.1 L294.1,454.0 L285.1,456.2 L278.4,452.9 L273.9,449.5 L267.2,450.6 L258.2,451.1 L253.8,451.7 L252.6,457.3 L252.6,468.5 L248.2,470.8 L242.6,468.5 L241.4,461.8 L240.3,452.9 L242.6,447.3 L248.2,445.0 L252.0,443.9 L254.9,434.9 L257.1,428.2 L256.0,423.8Z" fill="#22738f" stroke="#22738f" stroke-width="0.5"/>
<path d="M113.5,462.3 L119.1,461.7 L124.0,461.1 L128.9,461.7 L133.9,462.3 L138.8,464.8 L143.7,466.0 L148.6,466.0 L151.1,470.9 L153.6,473.4 L156.0,478.3 L159.7,482.0 L163.4,485.7 L168.4,489.4 L171.4,491.9 L172.1,495.6 L170.2,499.3 L167.1,503.0 L167.1,507.9 L165.3,512.8 L162.2,516.5 L163.4,521.5 L168.4,521.5 L164.7,523.9 L161.0,526.4 L158.5,528.9 L162.8,533.8 L161.0,537.5 L157.3,536.3 L156.0,538.7 L153.6,543.6 L151.1,546.1 L147.4,547.3 L145.0,548.6 L143.1,547.3 L142.5,541.2 L141.3,535.0 L140.0,528.9 L140.0,523.9 L141.3,520.2 L138.8,519.0 L136.3,516.5 L133.9,516.5 L132.6,514.1 L136.3,511.6 L140.0,507.9 L145.0,507.9 L138.8,507.3 L133.9,512.8 L132.0,516.5 L133.9,521.5 L132.0,526.4 L128.9,530.1 L122.8,532.6 L115.4,535.0 L109.2,536.9 L104.3,535.0 L99.4,532.6 L93.2,526.4 L88.3,520.2 L82.1,514.1 L77.2,507.9 L76.6,504.2 L79.6,503.6 L80.9,506.1 L87.0,503.0 L92.0,500.5 L98.1,498.1 L103.1,493.1 L98.1,494.4 L92.0,496.2 L84.6,497.4 L79.6,496.2 L73.5,493.1 L69.8,489.4 L67.3,484.5 L66.1,480.8 L69.8,478.3 L72.9,477.1 L68.6,477.7 L65.5,479.6 L63.0,481.4 L63.6,475.9 L68.6,474.6 L72.9,474.0 L73.5,468.5 L79.6,469.1 L88.3,468.5 L90.7,469.7 L96.9,468.5 L104.3,466.6 L105.5,469.7 L109.2,468.5 L111.7,466.0 L113.5,462.3Z" fill="#1f6689" stroke="#1f6689" stroke-width="0.5"/>
<path d="M171.4,491.9 L177.1,486.5 L179.3,475.3 L178.2,464.1 L180.4,457.3 L187.1,455.1 L189.4,459.6 L196.1,460.7 L198.3,464.1 L196.1,470.8 L193.9,475.3 L198.3,477.5 L205.1,473.0 L211.8,470.8 L215.1,468.5 L216.3,459.6 L220.7,455.1 L223.0,450.6 L218.5,447.3 L211.8,443.9 L209.5,439.4 L216.3,432.7 L225.2,426.0 L227.5,420.0 L231.4,418.2 L238.1,419.3 L241.4,421.5 L248.2,420.4 L253.8,422.6 L256.0,423.8 L257.1,428.2 L254.9,434.9 L252.0,443.9 L248.2,445.0 L242.6,447.3 L240.3,452.9 L241.4,461.8 L242.6,468.5 L248.2,470.8 L252.6,468.5 L252.6,457.3 L253.8,451.7 L258.2,451.1 L267.2,450.6 L273.9,449.5 L278.4,452.9 L285.1,456.2 L294.1,454.0 L300.8,455.1 L312.0,459.6 L320.9,464.1 L322.5,475.3 L327.5,475.7 L331.0,470.0 L336.1,473.4 L340.6,482.4 L342.9,489.1 L347.3,493.6 L345.1,501.4 L338.4,504.8 L331.7,513.8 L329.4,522.7 L320.5,527.2 L313.8,536.1 L314.9,547.3 L319.4,554.1 L313.8,551.8 L305.9,552.9 L308.2,565.3 L309.3,576.5 L304.8,585.4 L297.0,592.1 L289.1,592.1 L282.4,583.2 L277.9,576.5 L270.6,571.9 L275.6,568.5 L282.3,564.1 L285.7,560.7 L282.3,555.1 L278.9,546.1 L280.1,537.2 L282.3,528.2 L280.1,523.8 L275.6,520.4 L268.9,520.4 L259.9,519.3 L250.9,520.4 L237.5,522.6 L228.5,523.8 L224.1,518.2 L217.3,519.3 L212.9,523.8 L206.1,530.5 L203.9,528.2 L194.9,523.8 L186.0,521.5 L177.0,518.2 L174.8,512.6 L162.2,516.5 L165.3,512.8 L167.1,507.9 L167.1,503.0 L170.2,499.3 L172.1,495.6 L171.4,491.9Z" fill="#1e6285" stroke="#1e6285" stroke-width="0.5"/>
<path d="M143.1,547.3 L145.0,548.6 L147.4,547.3 L151.1,546.1 L153.6,543.6 L156.0,538.7 L157.3,536.3 L161.0,537.5 L162.8,533.8 L158.5,528.9 L161.0,526.4 L164.7,523.9 L168.4,521.5 L163.4,521.5 L162.2,516.5 L174.8,512.6 L177.0,518.2 L186.0,521.5 L194.9,523.8 L203.9,528.2 L206.1,530.5 L212.9,523.8 L217.3,519.3 L224.1,518.2 L228.5,523.8 L237.5,522.6 L250.9,520.4 L259.9,519.3 L268.9,520.4 L275.6,520.4 L280.1,523.8 L282.3,528.2 L280.1,537.2 L278.9,546.1 L282.3,555.1 L285.7,560.7 L282.3,564.1 L275.6,568.5 L270.6,571.9 L264.4,564.1 L255.4,559.6 L248.7,555.1 L242.0,554.0 L239.7,559.6 L235.3,564.1 L233.0,570.8 L228.5,579.7 L226.3,582.0 L221.8,586.5 L217.3,592.1 L208.4,595.4 L203.9,599.9 L197.2,599.9 L194.9,604.4 L188.2,608.9 L181.5,610.0 L174.8,615.6 L170.3,617.8 L170.2,628.1 L169.1,636.1 L170.2,644.2 L165.1,647.2 L163.6,640.2 L159.1,631.3 L154.6,622.3 L152.4,608.9 L150.2,597.7 L146.8,586.5 L143.4,575.3 L144.6,573.0 L147.9,571.9 L152.4,569.7 L153.5,565.2 L150.2,561.8 L143.4,562.9 L143.4,555.1 L143.1,547.3Z" fill="#1e6285" stroke="#1e6285" stroke-width="0.5"/>
<path d="M144.6,573.0 L147.9,571.9 L152.4,569.7 L153.5,565.2 L150.2,561.8 L143.4,562.9 L143.9,568.5 L144.6,573.0Z" fill="#22738f" stroke="#22738f" stroke-width="0.5"/>
<path d="M331.0,470.0 L332.1,466.3 L331.0,459.6 L332.1,450.6 L343.3,443.9 L350.0,439.3 L344.0,436.0 L342.6,433.3 L345.0,431.3 L342.6,429.3 L340.6,428.0 L343.3,426.6 L349.3,424.7 L346.6,421.3 L342.6,418.7 L342.0,415.3 L338.5,410.0 L342.5,408.7 L344.0,410.0 L346.6,410.7 L353.3,412.0 L354.6,416.7 L360.0,418.7 L365.7,420.4 L374.7,421.5 L385.9,423.8 L392.6,424.9 L400.0,426.5 L412.2,427.7 L417.0,428.1 L417.9,430.7 L414.3,435.2 L410.7,439.7 L409.0,444.2 L409.9,453.1 L409.0,462.1 L408.1,467.5 L403.6,471.9 L400.0,473.7 L394.4,475.7 L385.4,480.2 L378.7,482.4 L374.2,488.0 L378.7,493.6 L385.4,500.3 L392.1,508.2 L385.4,507.0 L380.9,502.6 L376.5,503.7 L374.2,511.5 L365.3,511.5 L358.5,507.0 L345.1,501.4 L347.3,493.6 L342.9,489.1 L340.6,482.4 L336.1,473.4 L331.0,470.0Z" fill="#22738f" stroke="#22738f" stroke-width="0.5"/>
<path d="M392.1,508.2 L385.4,500.3 L378.7,493.6 L374.2,488.0 L378.7,482.4 L385.4,480.2 L394.4,475.7 L400.0,473.7 L403.6,471.9 L408.1,467.5 L409.0,462.1 L409.9,453.1 L409.0,444.2 L410.7,439.7 L414.3,435.2 L417.9,430.7 L417.0,428.1 L412.2,427.7 L411.7,423.6 L410.6,418.0 L409.8,416.3 L410.6,412.4 L410.3,408.5 L411.7,405.7 L412.3,401.8 L417.9,399.5 L421.8,398.4 L426.8,399.5 L428.5,403.4 L427.4,406.8 L427.1,411.3 L429.6,412.4 L428.5,415.2 L431.3,417.4 L436.3,419.7 L440.8,421.9 L447.5,422.7 L445.3,426.4 L443.1,432.0 L441.2,436.1 L438.6,437.0 L431.9,435.9 L429.1,433.7 L422.9,433.1 L420.4,430.9 L417.9,434.8 L416.1,439.7 L417.9,442.4 L422.4,446.0 L426.9,448.7 L429.6,451.3 L425.1,453.1 L419.7,454.9 L414.3,458.5 L413.4,462.1 L415.2,464.8 L418.8,466.6 L423.3,468.4 L425.1,472.8 L424.2,478.2 L426.0,485.4 L426.9,490.7 L427.8,497.9 L428.7,505.1 L429.6,512.2 L426.9,500.3 L428.0,511.5 L430.2,519.4 L425.7,521.6 L414.5,520.5 L404.5,519.4 L398.9,513.8 L392.1,508.2Z" fill="#1e6285" stroke="#1e6285" stroke-width="0.5"/>
<path d="M345.1,501.4 L358.5,507.0 L365.3,511.5 L374.2,511.5 L376.5,503.7 L380.9,502.6 L385.4,507.0 L392.1,508.2 L398.9,513.8 L404.5,519.4 L394.4,523.8 L392.1,531.7 L389.9,542.9 L383.2,549.6 L369.7,556.3 L360.8,563.0 L356.3,566.4 L354.1,567.5 L345.1,572.0 L336.1,567.5 L327.2,576.5 L313.8,585.4 L297.0,592.1 L304.8,585.4 L309.3,576.5 L308.2,565.3 L305.9,552.9 L313.8,551.8 L319.4,554.1 L314.9,547.3 L313.8,536.1 L320.5,527.2 L329.4,522.7 L331.7,513.8 L338.4,504.8 L345.1,501.4Z" fill="#22738f" stroke="#22738f" stroke-width="0.5"/>
<path d="M270.6,571.9 L277.9,576.5 L282.4,583.2 L289.1,592.1 L297.0,592.1 L313.8,585.4 L327.2,576.5 L336.1,567.5 L345.1,572.0 L354.1,567.5 L356.3,566.4 L347.3,576.5 L336.1,585.4 L324.9,594.4 L313.8,603.3 L311.5,612.3 L302.6,619.0 L293.6,621.3 L288.0,630.2 L280.2,632.5 L274.6,639.2 L273.0,644.2 L273.0,652.3 L275.0,660.3 L276.0,668.4 L277.0,675.4 L270.9,676.4 L262.9,678.5 L254.8,682.5 L244.7,684.5 L240.7,690.5 L241.7,684.5 L244.7,680.5 L242.7,674.4 L236.7,668.4 L230.6,667.4 L224.6,669.4 L218.5,668.4 L217.5,660.3 L215.5,652.3 L217.3,644.7 L219.6,640.2 L220.7,631.3 L224.1,626.8 L226.3,622.3 L224.1,617.8 L225.2,611.1 L227.4,604.4 L226.3,597.7 L228.5,588.7 L226.3,582.0 L228.5,579.7 L233.0,570.8 L235.3,564.1 L239.7,559.6 L242.0,554.0 L248.7,555.1 L255.4,559.6 L264.4,564.1 L270.6,571.9Z" fill="#1e6285" stroke="#1e6285" stroke-width="0.5"/>
<path d="M165.1,647.2 L170.2,644.2 L169.1,636.1 L170.2,628.1 L170.3,617.8 L174.8,615.6 L181.5,610.0 L188.2,608.9 L194.9,604.4 L197.2,599.9 L203.9,599.9 L208.4,595.4 L217.3,592.1 L221.8,586.5 L226.3,582.0 L228.5,588.7 L226.3,597.7 L227.4,604.4 L225.2,611.1 L224.1,617.8 L226.3,622.3 L224.1,626.8 L220.7,631.3 L219.6,640.2 L217.3,644.7 L215.5,652.3 L217.5,660.3 L218.5,668.4 L224.6,669.4 L230.6,667.4 L236.7,668.4 L242.7,674.4 L244.7,680.5 L241.7,684.5 L240.7,690.5 L238.7,686.5 L232.6,686.5 L228.6,690.5 L228.6,696.6 L230.6,702.6 L226.6,706.7 L216.5,706.7 L208.5,709.7 L204.4,706.7 L200.4,702.6 L192.3,698.6 L186.3,692.6 L179.2,688.5 L176.2,676.4 L174.2,668.4 L172.2,660.3 L169.1,654.3 L165.1,647.2Z" fill="#22738f" stroke="#22738f" stroke-width="0.5"/>
<path d="M179.2,688.5 L186.3,692.6 L192.3,698.6 L200.4,702.6 L204.4,706.7 L208.5,709.7 L204.4,711.7 L206.4,716.8 L212.5,718.8 L214.5,722.8 L214.5,730.9 L216.5,735.9 L221.6,734.9 L222.6,740.9 L221.6,749.0 L223.6,751.0 L222.6,759.1 L221.6,767.1 L220.5,773.2 L224.6,779.2 L219.5,776.2 L214.5,771.2 L208.5,761.1 L204.4,747.0 L202.4,736.9 L198.4,724.8 L193.3,712.7 L188.3,704.7 L182.3,696.6 L179.2,688.5Z" fill="#22738f" stroke="#22738f" stroke-width="0.5"/>
<path d="M208.5,709.7 L216.5,706.7 L226.6,706.7 L230.6,702.6 L228.6,696.6 L228.6,690.5 L232.6,686.5 L238.7,686.5 L240.7,690.5 L244.7,684.5 L254.8,682.5 L262.9,678.5 L270.9,676.4 L277.0,675.4 L276.0,684.5 L273.0,692.6 L269.9,700.6 L267.9,708.7 L268.9,716.8 L269.9,726.8 L268.9,736.9 L262.9,737.9 L258.8,743.0 L254.8,751.0 L262.9,755.1 L264.9,758.1 L250.8,757.1 L242.7,761.1 L238.7,767.1 L236.7,775.2 L232.6,777.2 L227.6,780.2 L224.6,779.2 L220.5,773.2 L221.6,767.1 L222.6,759.1 L223.6,751.0 L221.6,749.0 L222.6,740.9 L221.6,734.9 L216.5,735.9 L214.5,730.9 L214.5,722.8 L212.5,718.8 L206.4,716.8 L204.4,711.7 L208.5,709.7Z" fill="#22738f" stroke="#22738f" stroke-width="0.5"/>
<path d="M441.2,436.1 L443.1,432.0 L445.3,426.4 L447.5,422.7 L459.1,421.8 L471.6,421.8 L478.8,422.3 L493.1,420.9 L503.9,421.8 L511.0,421.8 L516.4,415.5 L521.8,411.0 L529.0,409.3 L536.1,407.5 L543.3,405.7 L548.7,404.8 L546.9,411.0 L549.6,416.4 L543.3,417.3 L536.1,420.9 L529.0,424.5 L523.6,428.1 L519.1,431.6 L514.6,437.0 L512.8,442.4 L507.5,446.0 L505.7,449.6 L503.9,456.7 L500.3,460.3 L498.5,465.7 L493.1,469.3 L488.7,472.8 L485.1,468.4 L481.5,465.7 L480.6,460.3 L484.2,458.5 L489.6,458.5 L494.0,453.1 L492.2,447.8 L487.8,444.2 L484.2,438.8 L477.0,438.8 L471.6,442.4 L467.2,444.2 L460.9,440.6 L453.7,438.8 L448.4,439.7 L445.7,443.3 L443.9,447.8 L441.2,448.7 L442.1,444.2 L441.2,436.1Z" fill="#22738f" stroke="#22738f" stroke-width="0.5"/>
<path d="M478.8,422.3 L477.0,417.3 L471.6,410.1 L470.7,405.7 L477.0,403.9 L484.2,401.2 L493.1,396.7 L500.3,392.2 L507.5,390.4 L512.8,386.9 L518.2,380.6 L523.6,377.9 L530.7,382.4 L537.9,381.5 L543.3,378.8 L548.7,377.0 L553.1,382.4 L554.9,388.7 L552.2,394.9 L559.4,397.6 L566.6,399.4 L571.9,402.1 L570.1,408.4 L564.8,411.9 L567.5,420.9 L561.2,417.3 L555.8,416.4 L550.4,419.1 L541.5,423.6 L536.1,428.1 L534.3,433.4 L529.0,446.0 L527.2,456.7 L523.6,463.9 L518.2,471.0 L518.2,480.0 L514.6,478.2 L507.5,476.4 L503.9,478.2 L503.0,485.4 L500.3,494.3 L498.5,503.3 L497.6,512.2 L491.3,513.1 L487.8,510.4 L486.0,503.3 L484.2,494.3 L482.4,485.4 L479.7,481.8 L477.0,492.5 L471.6,494.3 L468.1,492.5 L466.3,485.4 L463.6,480.0 L467.2,474.6 L472.5,471.0 L477.0,469.3 L481.5,465.7 L485.1,468.4 L488.7,472.8 L493.1,469.3 L498.5,465.7 L500.3,460.3 L503.9,456.7 L505.7,449.6 L507.5,446.0 L512.8,442.4 L514.6,437.0 L519.1,431.6 L523.6,428.1 L529.0,424.5 L536.1,420.9 L543.3,417.3 L549.6,416.4 L546.9,411.0 L548.7,404.8 L543.3,405.7 L536.1,407.5 L529.0,409.3 L521.8,411.0 L516.4,415.5 L511.0,421.8 L503.9,421.8 L493.1,420.9 L478.8,422.3Z" fill="#22738f" stroke="#22738f" stroke-width="0.5"/>
<path d="M484.2,458.5 L480.6,453.1 L471.6,453.1 L460.9,454.0 L451.9,453.1 L444.8,450.4 L441.2,448.7 L443.9,447.8 L445.7,443.3 L448.4,439.7 L453.7,438.8 L460.9,440.6 L467.2,444.2 L471.6,442.4 L477.0,438.8 L484.2,438.8 L487.8,444.2 L492.2,447.8 L494.0,453.1 L489.6,458.5 L484.2,458.5Z" fill="#22738f" stroke="#22738f" stroke-width="0.5"/>
<path d="M418.8,490.7 L419.7,496.1 L421.5,500.6 L420.6,506.0 L417.0,506.9 L413.4,503.3 L412.5,500.6 L416.1,497.9 L417.9,493.4Z" fill="#1e6285" stroke="#5d6468" stroke-opacity="0.8" stroke-width="1.1"/>
<path d="M496.9,663.1 L499.4,663.8 L500.2,666.8 L500.6,671.8 L499.9,676.9 L499.4,683.6 L498.9,688.6 L498.2,692.0 L496.9,695.3 L496.5,700.4 L496.0,705.4 L495.2,708.8 L495.5,710.4 L494.3,711.3 L493.2,707.9 L492.2,703.7 L491.8,698.7 L492.7,695.3 L493.5,690.3 L493.2,683.6 L492.7,678.5 L493.5,673.5 L494.3,668.5 L495.5,665.1Z" fill="#1e6285"/>
<path d="M491.8,714.6 L493.8,715.8 L494.5,718.8 L493.5,721.3 L491.0,721.3 L490.1,718.0Z" fill="#1e6285"/>
<path d="M499.9,688.6 L501.9,691.1 L502.2,698.7 L500.6,697.8 L499.4,692.8Z" fill="#1e6285"/>
<path d="M498.2,745.3 L500.6,745.3 L500.6,747.7 L498.2,747.7Z" fill="#1e6285"/>
<path d="M504.9,760.0 L507.3,761.6 L508.3,764.1 L506.1,764.1Z" fill="#1e6285"/>
<path d="M510.3,765.8 L513.3,763.3 L515.0,767.5 L512.0,769.5 L510.0,768.8Z" fill="#1e6285"/>
<path d="M514.0,755.8 L515.3,756.1 L515.7,760.0 L514.3,760.0Z" fill="#1e6285"/>
<path d="M517.3,777.6 L519.5,779.3 L522.0,782.6 L522.9,786.8 L521.2,789.3 L519.5,789.3 L517.8,784.3 L517.0,780.9Z" fill="#1e6285"/>
<path d="M486.5,702.4 L487.8,702.4 L487.8,703.7 L486.5,703.7Z" fill="#1e6285"/>
<path d="M408.3,525.4 L410.5,524.3 L414.5,524.9 L416.8,523.6 L420.1,524.5 L423.5,523.8 L426.9,526.1 L428.0,528.3 L424.6,529.4 L420.1,528.3 L416.8,529.4 L413.4,528.3 L410.1,528.3Z" fill="#1e6285"/>
<rect x="130.0" y="710.3" width="1.4" height="1.4" fill="#22738f" opacity="0.8"/>
<rect x="139.4" y="708.5" width="1.4" height="1.4" fill="#22738f" opacity="0.8"/>
<rect x="145.2" y="712.8" width="1.4" height="1.4" fill="#22738f" opacity="0.8"/>
<rect x="128.6" y="717.8" width="1.4" height="1.4" fill="#22738f" opacity="0.8"/>
<rect x="140.7" y="717.8" width="1.4" height="1.4" fill="#22738f" opacity="0.8"/>
<rect x="139.8" y="719.7" width="1.4" height="1.4" fill="#22738f" opacity="0.8"/>
<rect x="132.2" y="723.1" width="1.4" height="1.4" fill="#22738f" opacity="0.8"/>
<rect x="130.0" y="724.9" width="1.4" height="1.4" fill="#22738f" opacity="0.8"/>
<rect x="136.2" y="726.7" width="1.4" height="1.4" fill="#22738f" opacity="0.8"/>
<rect x="138.0" y="730.9" width="1.4" height="1.4" fill="#22738f" opacity="0.8"/>
<rect x="157.1" y="725.8" width="1.4" height="1.4" fill="#22738f" opacity="0.8"/>
<rect x="132.2" y="738.7" width="1.4" height="1.4" fill="#22738f" opacity="0.8"/>
<rect x="131.8" y="741.0" width="1.4" height="1.4" fill="#22738f" opacity="0.8"/>
<rect x="156.8" y="738.5" width="1.4" height="1.4" fill="#22738f" opacity="0.8"/>
<rect x="156.4" y="740.5" width="1.4" height="1.4" fill="#22738f" opacity="0.8"/>
<rect x="128.6" y="719.7" width="1.4" height="1.4" fill="#22738f" opacity="0.8"/>
<path d="M247.2,308.5 L243.2,308.6 L240.6,308.6 L236.6,306.6 L233.2,302.6 L228.6,301.3 L223.3,300.6 L215.3,296.6 L209.9,297.9 L203.3,301.3 L199.3,303.9 L198.6,307.9 L195.3,311.9 L192.0,314.0 M254.0,337.6 L252.7,338.3 L247.3,336.0 L242.0,334.7 L236.6,336.3 L233.2,340.3 L232.6,345.7 L232.6,349.7 L228.5,351.7 M228.5,351.7 L221.8,349.0 L219.1,345.7 L215.8,343.0 M215.8,343.0 L212.4,340.3 L211.1,336.3 L206.4,332.2 L203.7,333.6 L199.0,323.5 L193.6,320.2 L192.0,314.0 M162.7,359.1 L168.1,360.5 L174.1,361.1 M174.1,361.1 L180.2,360.5 L184.9,361.8 L186.9,364.5 L192.2,363.8 L199.0,363.1 L203.0,361.8 L204.3,357.1 L208.4,355.1 L213.1,351.7 L215.8,348.4 L215.8,343.0 M228.5,351.7 L225.2,356.4 L221.8,360.5 L220.5,367.2 L221.1,375.2 L221.8,381.3 M221.8,381.3 L228.5,383.3 L230.5,388.7 L229.9,392.7 M229.9,392.7 L225.8,394.0 L220.5,392.7 L216.4,391.4 L214.4,388.7 L216.4,384.0 L221.8,381.3 M229.9,392.7 L227.2,399.4 L223.1,402.1 L217.8,404.1 M217.8,404.1 L216.4,399.4 L215.1,394.0 L211.1,396.7 L207.7,395.4 L204.3,398.1 L203.7,401.4 L200.3,400.1 L199.6,395.4 L196.3,392.7 L192.2,386.0 L191.6,380.6 L189.6,373.9 L185.5,373.2 L181.5,369.9 L175.5,371.2 L174.1,365.8 L174.1,361.1 M113.5,462.3 L119.1,461.7 L124.0,461.1 L128.9,461.7 L133.9,462.3 L138.8,464.8 L143.7,466.0 L148.6,466.0 L151.1,470.9 L153.6,473.4 L156.0,478.3 L159.7,482.0 L163.4,485.7 L168.4,489.4 L171.4,491.9 M171.4,491.9 L177.1,486.5 L179.3,475.3 L178.2,464.1 L180.4,457.3 L187.1,455.1 L189.4,459.6 L196.1,460.7 L198.3,464.1 L196.1,470.8 L193.9,475.3 L198.3,477.5 L205.1,473.0 L211.8,470.8 L215.1,468.5 L216.3,459.6 L220.7,455.1 L223.0,450.6 L218.5,447.3 L211.8,443.9 L209.5,439.4 L216.3,432.7 L225.2,426.0 L227.5,420.0 M217.8,404.1 L223.1,403.5 L224.5,406.1 L228.5,410.2 L229.9,415.5 L227.5,420.0 M227.5,420.0 L231.4,418.2 L238.1,419.3 L241.4,421.5 L248.2,420.4 L253.8,422.6 L256.0,423.8 M256.0,423.8 L259.4,414.8 L258.2,405.8 L262.7,396.9 L271.7,390.2 L276.1,386.1 M338.5,410.0 L342.0,415.3 L342.6,418.7 L346.6,421.3 L349.3,424.7 L343.3,426.6 L340.6,428.0 L342.6,429.3 L345.0,431.3 L342.6,433.3 L344.0,436.0 L350.0,439.3 L343.3,443.9 L332.1,450.6 L331.0,459.6 L332.1,466.3 L331.0,470.0 M331.0,470.0 L327.5,475.7 L322.5,475.3 L320.9,464.1 L312.0,459.6 L300.8,455.1 L294.1,454.0 L285.1,456.2 L278.4,452.9 L273.9,449.5 L267.2,450.6 L258.2,451.1 L253.8,451.7 L252.6,457.3 L252.6,468.5 L248.2,470.8 L242.6,468.5 L241.4,461.8 L240.3,452.9 L242.6,447.3 L248.2,445.0 L252.0,443.9 L254.9,434.9 L257.1,428.2 L256.0,423.8 M412.2,427.7 L417.0,428.1 L417.9,430.7 L414.3,435.2 L410.7,439.7 L409.0,444.2 L409.9,453.1 L409.0,462.1 L408.1,467.5 L403.6,471.9 L400.0,473.7 L394.4,475.7 L385.4,480.2 L378.7,482.4 L374.2,488.0 L378.7,493.6 L385.4,500.3 L392.1,508.2 M392.1,508.2 L385.4,507.0 L380.9,502.6 L376.5,503.7 L374.2,511.5 L365.3,511.5 L358.5,507.0 L345.1,501.4 M345.1,501.4 L347.3,493.6 L342.9,489.1 L340.6,482.4 L336.1,473.4 L331.0,470.0 M345.1,501.4 L338.4,504.8 L331.7,513.8 L329.4,522.7 L320.5,527.2 L313.8,536.1 L314.9,547.3 L319.4,554.1 L313.8,551.8 L305.9,552.9 L308.2,565.3 L309.3,576.5 L304.8,585.4 L297.0,592.1 M297.0,592.1 L289.1,592.1 L282.4,583.2 L277.9,576.5 L270.6,571.9 M270.6,571.9 L275.6,568.5 L282.3,564.1 L285.7,560.7 L282.3,555.1 L278.9,546.1 L280.1,537.2 L282.3,528.2 L280.1,523.8 L275.6,520.4 L268.9,520.4 L259.9,519.3 L250.9,520.4 L237.5,522.6 L228.5,523.8 L224.1,518.2 L217.3,519.3 L212.9,523.8 L206.1,530.5 L203.9,528.2 L194.9,523.8 L186.0,521.5 L177.0,518.2 L174.8,512.6 L162.2,516.5 M162.2,516.5 L165.3,512.8 L167.1,507.9 L167.1,503.0 L170.2,499.3 L172.1,495.6 L171.4,491.9 M162.2,516.5 L163.4,521.5 L168.4,521.5 L164.7,523.9 L161.0,526.4 L158.5,528.9 L162.8,533.8 L161.0,537.5 L157.3,536.3 L156.0,538.7 L153.6,543.6 L151.1,546.1 L147.4,547.3 L145.0,548.6 L143.1,547.3 M143.4,562.9 L150.2,561.8 L153.5,565.2 L152.4,569.7 L147.9,571.9 L144.6,573.0 M165.1,647.2 L170.2,644.2 L169.1,636.1 L170.2,628.1 L170.3,617.8 L174.8,615.6 L181.5,610.0 L188.2,608.9 L194.9,604.4 L197.2,599.9 L203.9,599.9 L208.4,595.4 L217.3,592.1 L221.8,586.5 L226.3,582.0 M226.3,582.0 L228.5,579.7 L233.0,570.8 L235.3,564.1 L239.7,559.6 L242.0,554.0 L248.7,555.1 L255.4,559.6 L264.4,564.1 L270.6,571.9 M297.0,592.1 L313.8,585.4 L327.2,576.5 L336.1,567.5 L345.1,572.0 L354.1,567.5 L356.3,566.4 M392.1,508.2 L398.9,513.8 L404.5,519.4 M447.5,422.7 L445.3,426.4 L443.1,432.0 L441.2,436.1 M478.8,422.3 L493.1,420.9 L503.9,421.8 L511.0,421.8 L516.4,415.5 L521.8,411.0 L529.0,409.3 L536.1,407.5 L543.3,405.7 L548.7,404.8 L546.9,411.0 L549.6,416.4 L543.3,417.3 L536.1,420.9 L529.0,424.5 L523.6,428.1 L519.1,431.6 L514.6,437.0 L512.8,442.4 L507.5,446.0 L505.7,449.6 L503.9,456.7 L500.3,460.3 L498.5,465.7 L493.1,469.3 L488.7,472.8 L485.1,468.4 L481.5,465.7 M484.2,458.5 L489.6,458.5 L494.0,453.1 L492.2,447.8 L487.8,444.2 L484.2,438.8 L477.0,438.8 L471.6,442.4 L467.2,444.2 L460.9,440.6 L453.7,438.8 L448.4,439.7 L445.7,443.3 L443.9,447.8 L441.2,448.7 M226.3,582.0 L228.5,588.7 L226.3,597.7 L227.4,604.4 L225.2,611.1 L224.1,617.8 L226.3,622.3 L224.1,626.8 L220.7,631.3 L219.6,640.2 L217.3,644.7 L215.5,652.3 L217.5,660.3 L218.5,668.4 L224.6,669.4 L230.6,667.4 L236.7,668.4 L242.7,674.4 L244.7,680.5 L241.7,684.5 L240.7,690.5 M240.7,690.5 L244.7,684.5 L254.8,682.5 L262.9,678.5 L270.9,676.4 L277.0,675.4 M179.2,688.5 L186.3,692.6 L192.3,698.6 L200.4,702.6 L204.4,706.7 L208.5,709.7 M208.5,709.7 L216.5,706.7 L226.6,706.7 L230.6,702.6 L228.6,696.6 L228.6,690.5 L232.6,686.5 L238.7,686.5 L240.7,690.5 M208.5,709.7 L204.4,711.7 L206.4,716.8 L212.5,718.8 L214.5,722.8 L214.5,730.9 L216.5,735.9 L221.6,734.9 L222.6,740.9 L221.6,749.0 L223.6,751.0 L222.6,759.1 L221.6,767.1 L220.5,773.2 L224.6,779.2" fill="none" stroke="#5d6468" stroke-opacity="0.8" stroke-width="1.1" stroke-linejoin="round"/>
</g>
<text x="448.7" y="574.5" font-size="16.5" fill="#5b5b5b" textLength="188" lengthAdjust="spacingAndGlyphs">Median Download (Mbps)</text>
<rect x="435.7" y="584.2" width="214.5" height="17.4" fill="url(#lg)"/>
<text x="417" y="623.3" font-size="16.3" fill="#5b5b5b" textLength="38" lengthAdjust="spacingAndGlyphs">19.23</text>
<text x="626" y="623.3" font-size="16.3" fill="#5b5b5b" textLength="48.3" lengthAdjust="spacingAndGlyphs">512.57</text>
<g fill="none" stroke="#111" stroke-width="2.3">
<path d="M31.67,856.8 A9.65,9.65 0 1 1 46.23,856.8"/>
<path d="M37.6,850.8 L43.4,845.9" stroke-width="2.6"/>
</g>
<text x="57" y="856.7" font-size="21.4" font-weight="bold" fill="#111" textLength="124.2" lengthAdjust="spacingAndGlyphs">SPEEDTEST</text>
<circle cx="183.5" cy="843" r="1" fill="#111"/>
<g fill="none" stroke="#111" stroke-width="1.8">
<ellipse cx="1108.7" cy="849.8" rx="6.45" ry="6.6"/>
<ellipse cx="1124.3" cy="849.8" rx="6.45" ry="6.6"/>
<path d="M1134.2,842.8 V857.4"/>
<path d="M1148.9,842.8 V856.5 H1157"/>
<path d="M1158.3,857.4 L1164.6,843.6 L1171,857.4" stroke-linejoin="round"/>
</g>
<g fill="none" stroke="#111" stroke-width="1.0">
<path d="M1135.3,847.0 L1146.6,835.4 M1135.3,849.0 L1148.2,835.4 M1136.5,850.0 L1149.8,835.4"/>
<path d="M1135.3,849.6 L1142.8,857.4 M1136.5,849.3 L1144.5,857.4 M1137.8,849.1 L1146.3,857.4"/>
</g>
<circle cx="1170.5" cy="843.7" r="0.9" fill="#111"/>

</svg>
</body></html>
